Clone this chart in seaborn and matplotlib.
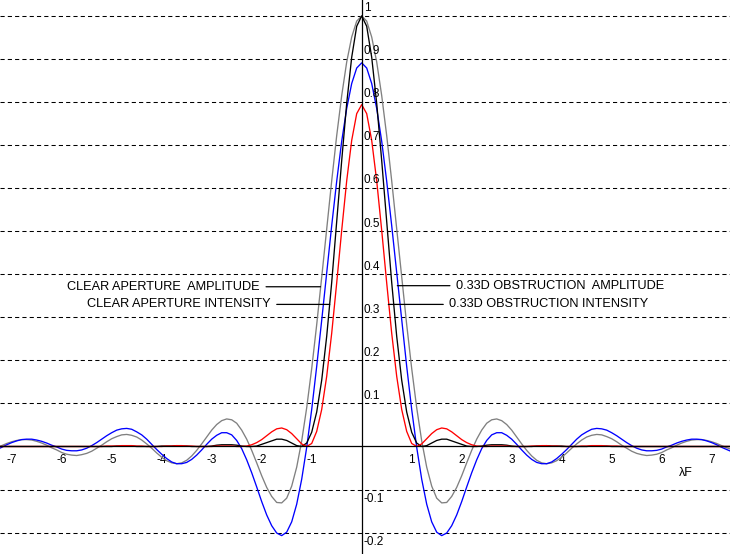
import numpy as np
import pandas as pd
import matplotlib
matplotlib.use("Agg")
import matplotlib.pyplot as plt
import seaborn as sns

# ── data (lambda*F units) ─────────────────────────────────────────────────────
lambda_f = [
    -7.3, -7.2, -7.1, -7.0, -6.9, -6.8, -6.7, -6.6, -6.5, -6.4,
    -6.3, -6.2, -6.1, -6.0, -5.9, -5.8, -5.7, -5.6, -5.5, -5.4,
    -5.3, -5.2, -5.1, -5.0, -4.9, -4.8, -4.7, -4.6, -4.5, -4.4,
    -4.3, -4.2, -4.1, -4.0, -3.9, -3.8, -3.7, -3.6, -3.5, -3.4,
    -3.3, -3.2, -3.1, -3.0, -2.9, -2.8, -2.7, -2.6, -2.5, -2.4,
    -2.3, -2.2, -2.1, -2.0, -1.9, -1.8, -1.7, -1.6, -1.5, -1.4,
    -1.3, -1.2, -1.1, -1.0, -0.9, -0.8, -0.7, -0.6, -0.5, -0.4,
    -0.3, -0.2, -0.1,
    0.0, 0.1, 0.2, 0.3, 0.4, 0.5, 0.6, 0.7, 0.8, 0.9,
    1.0, 1.1, 1.2, 1.3, 1.4, 1.5, 1.6, 1.7, 1.8, 1.9,
    2.0, 2.1, 2.2, 2.3, 2.4, 2.5, 2.6, 2.7, 2.8, 2.9,
    3.0, 3.1, 3.2, 3.3, 3.4, 3.5, 3.6, 3.7, 3.8, 3.9,
    4.0, 4.1, 4.2, 4.3, 4.4, 4.5, 4.6, 4.7, 4.8, 4.9,
    5.0, 5.1, 5.2, 5.3, 5.4, 5.5, 5.6, 5.7, 5.8, 5.9,
    6.0, 6.1, 6.2, 6.3, 6.4, 6.5, 6.6, 6.7, 6.8, 6.9,
    7.0, 7.1, 7.2, 7.3, 7.4,
]

clear_amplitude = [
    -0.003, 0.002, 0.007, 0.011, 0.014, 0.016, 0.016, 0.015, 0.012, 0.008,
    0.003, -0.003, -0.008, -0.014, -0.018, -0.020, -0.021, -0.019, -0.016, -0.011,
    -0.004, 0.003, 0.011, 0.018, 0.023, 0.027, 0.028, 0.026, 0.022, 0.015,
    0.006, -0.004, -0.015, -0.025, -0.033, -0.038, -0.040, -0.038, -0.032, -0.022,
    -0.009, 0.006, 0.022, 0.038, 0.051, 0.060, 0.064, 0.062, 0.054, 0.038,
    0.017, -0.009, -0.038, -0.068, -0.095, -0.116, -0.130, -0.131, -0.120, -0.092,
    -0.048, 0.013, 0.090, 0.181, 0.283, 0.393, 0.506, 0.617, 0.722, 0.815,
    0.893, 0.951, 0.988,
    1.000, 0.988, 0.951, 0.893, 0.815, 0.722, 0.617, 0.506, 0.393, 0.283,
    0.181, 0.090, 0.013, -0.048, -0.092, -0.120, -0.131, -0.130, -0.116, -0.095,
    -0.068, -0.038, -0.009, 0.017, 0.038, 0.054, 0.062, 0.064, 0.060, 0.051,
    0.038, 0.022, 0.006, -0.009, -0.022, -0.032, -0.038, -0.040, -0.038, -0.033,
    -0.025, -0.015, -0.004, 0.006, 0.015, 0.022, 0.026, 0.028, 0.027, 0.023,
    0.018, 0.011, 0.003, -0.004, -0.011, -0.016, -0.019, -0.021, -0.020, -0.018,
    -0.014, -0.008, -0.003, 0.003, 0.008, 0.012, 0.015, 0.016, 0.016, 0.014,
    0.011, 0.007, 0.002, -0.003, -0.007,
]

clear_intensity = [
    0.000, 0.000, 0.000, 0.000, 0.000, 0.000, 0.000, 0.000, 0.000, 0.000,
    0.000, 0.000, 0.000, 0.000, 0.000, 0.000, 0.000, 0.000, 0.000, 0.000,
    0.000, 0.000, 0.000, 0.000, 0.001, 0.001, 0.001, 0.001, 0.000, 0.000,
    0.000, 0.000, 0.000, 0.001, 0.001, 0.001, 0.002, 0.001, 0.001, 0.000,
    0.000, 0.000, 0.000, 0.001, 0.003, 0.004, 0.004, 0.004, 0.003, 0.001,
    0.000, 0.000, 0.001, 0.005, 0.009, 0.013, 0.017, 0.017, 0.014, 0.008,
    0.002, 0.000, 0.008, 0.033, 0.080, 0.154, 0.256, 0.381, 0.521, 0.664,
    0.797, 0.904, 0.976,
    1.000, 0.976, 0.904, 0.797, 0.664, 0.521, 0.381, 0.256, 0.154, 0.080,
    0.033, 0.008, 0.000, 0.002, 0.008, 0.014, 0.017, 0.017, 0.013, 0.009,
    0.005, 0.001, 0.000, 0.000, 0.001, 0.003, 0.004, 0.004, 0.004, 0.003,
    0.001, 0.000, 0.000, 0.000, 0.000, 0.001, 0.001, 0.002, 0.001, 0.001,
    0.001, 0.000, 0.000, 0.000, 0.000, 0.000, 0.001, 0.001, 0.001, 0.001,
    0.000, 0.000, 0.000, 0.000, 0.000, 0.000, 0.000, 0.000, 0.000, 0.000,
    0.000, 0.000, 0.000, 0.000, 0.000, 0.000, 0.000, 0.000, 0.000, 0.000,
    0.000, 0.000, 0.000, 0.000, 0.000,
]

obstructed_amplitude = [
    -0.007, -0.002, 0.004, 0.009, 0.013, 0.016, 0.017, 0.017, 0.015, 0.012,
    0.008, 0.003, -0.001, -0.006, -0.009, -0.010, -0.010, -0.008, -0.004, 0.002,
    0.009, 0.017, 0.025, 0.032, 0.038, 0.041, 0.042, 0.040, 0.034, 0.027,
    0.017, 0.005, -0.007, -0.018, -0.028, -0.036, -0.040, -0.040, -0.037, -0.030,
    -0.020, -0.008, 0.005, 0.017, 0.026, 0.032, 0.032, 0.027, 0.014, -0.005,
    -0.031, -0.061, -0.094, -0.128, -0.159, -0.184, -0.201, -0.207, -0.199, -0.175,
    -0.134, -0.076, -0.002, 0.086, 0.186, 0.293, 0.404, 0.513, 0.616, 0.709,
    0.785, 0.843, 0.879,
    0.891, 0.879, 0.843, 0.785, 0.709, 0.616, 0.513, 0.404, 0.293, 0.186,
    0.086, -0.002, -0.076, -0.134, -0.175, -0.199, -0.207, -0.201, -0.184, -0.159,
    -0.128, -0.094, -0.061, -0.031, -0.005, 0.014, 0.027, 0.032, 0.032, 0.026,
    0.017, 0.005, -0.008, -0.020, -0.030, -0.037, -0.040, -0.040, -0.036, -0.028,
    -0.018, -0.007, 0.005, 0.017, 0.027, 0.034, 0.040, 0.042, 0.041, 0.038,
    0.032, 0.025, 0.017, 0.009, 0.002, -0.004, -0.008, -0.010, -0.010, -0.009,
    -0.006, -0.001, 0.003, 0.008, 0.012, 0.015, 0.017, 0.017, 0.016, 0.013,
    0.009, 0.004, -0.002, -0.007, -0.012,
]

obstructed_intensity = [
    0.000, 0.000, 0.000, 0.000, 0.000, 0.000, 0.000, 0.000, 0.000, 0.000,
    0.000, 0.000, 0.000, 0.000, 0.000, 0.000, 0.000, 0.000, 0.000, 0.000,
    0.000, 0.000, 0.001, 0.001, 0.001, 0.002, 0.002, 0.002, 0.001, 0.001,
    0.000, 0.000, 0.000, 0.000, 0.001, 0.001, 0.002, 0.002, 0.001, 0.001,
    0.000, 0.000, 0.000, 0.000, 0.001, 0.001, 0.001, 0.001, 0.000, 0.000,
    0.001, 0.004, 0.009, 0.016, 0.025, 0.034, 0.041, 0.043, 0.039, 0.030,
    0.018, 0.006, 0.000, 0.007, 0.035, 0.086, 0.163, 0.263, 0.380, 0.502,
    0.617, 0.711, 0.773,
    0.794, 0.773, 0.711, 0.617, 0.502, 0.380, 0.263, 0.163, 0.086, 0.035,
    0.007, 0.000, 0.006, 0.018, 0.030, 0.039, 0.043, 0.041, 0.034, 0.025,
    0.016, 0.009, 0.004, 0.001, 0.000, 0.000, 0.001, 0.001, 0.001, 0.001,
    0.000, 0.000, 0.000, 0.000, 0.001, 0.001, 0.002, 0.002, 0.001, 0.001,
    0.000, 0.000, 0.000, 0.000, 0.001, 0.001, 0.002, 0.002, 0.002, 0.001,
    0.001, 0.001, 0.000, 0.000, 0.000, 0.000, 0.000, 0.000, 0.000, 0.000,
    0.000, 0.000, 0.000, 0.000, 0.000, 0.000, 0.000, 0.000, 0.000, 0.000,
    0.000, 0.000, 0.000, 0.000, 0.000,
]

xticks = [-7, -6, -5, -4, -3, -2, -1, 1, 2, 3, 4, 5, 6, 7]
ylevels = [-0.2, -0.1, 0.1, 0.2, 0.3, 0.4, 0.5, 0.6, 0.7, 0.8, 0.9, 1.0]
ylabels = ["-0.2", "-0.1", "0.1", "0.2", "0.3", "0.4", "0.5", "0.6", "0.7", "0.8", "0.9", "1"]

# ── styling ───────────────────────────────────────────────────────────────────
sns.set_theme(style="white", rc={"axes.edgecolor": "black", "text.color": "black",
                                 "xtick.color": "black", "axes.unicode_minus": False})
plt.rcParams["font.family"] = ["Liberation Sans", "DejaVu Sans"]

series = {
    "clear_amp": clear_amplitude,
    "obs_amp": obstructed_amplitude,
    "clear_int": clear_intensity,
    "obs_int": obstructed_intensity,
}
df = pd.concat(
    [pd.DataFrame({"x": lambda_f, "value": vals, "series": name}) for name, vals in series.items()],
    ignore_index=True,
)
palette = {"clear_amp": "#808080", "obs_amp": "#0000ff", "clear_int": "#000000", "obs_int": "#ff0000"}

fig = plt.figure(figsize=(7.3, 5.54), dpi=100)
ax = fig.add_axes([0, 0, 1, 1])
sns.lineplot(data=df, x="x", y="value", hue="series", palette=palette, estimator=None,
             sort=False, lw=0.95, legend=False, ax=ax, zorder=2)
ax.set_xlim(-7.234, 7.366)
ax.set_ylim(-0.2497, 1.037)
ax.set_xlabel("")
ax.set_ylabel("")

# axes through the origin, drawn over the curves
for side in ["top", "right"]:
    ax.spines[side].set_visible(False)
for side in ["left", "bottom"]:
    ax.spines[side].set_position(("data", 0))
    ax.spines[side].set_linewidth(0.9)
    ax.spines[side].set_zorder(4)

ax.set_xticks(xticks, labels=[str(t) for t in xticks])
ax.tick_params(axis="x", direction="inout", length=8, width=0.8, pad=1.5, labelsize=8.5)
ax.set_yticks(ylevels)
ax.tick_params(axis="y", length=0, labelleft=False, labelright=False)
ax.grid(axis="y", color="black", lw=0.75, ls=(0, (4, 3)))

for v, lab in zip(ylevels, ylabels):
    if v > 0:
        ax.annotate(lab, xy=(0, v), xytext=(1.5, 1.2), textcoords="offset points",
                    ha="left", va="bottom", fontsize=8.5)
    else:
        ax.annotate(lab, xy=(0, v), xytext=(1.5, -2.2), textcoords="offset points",
                    ha="left", va="top", fontsize=8.5)

ax.text(6.48, -0.062, "λF", ha="center", va="center", fontsize=9)

# ── curve labels with leader lines ───────────────────────────────────────────
line_kw = dict(arrowstyle="-", color="black", lw=0.9, shrinkA=2, shrinkB=0)
ax.annotate("CLEAR APERTURE  AMPLITUDE", xy=(-0.825, 0.371), xytext=(-2.034, 0.371),
            ha="right", va="center", fontsize=9.2, arrowprops=line_kw)
ax.annotate("CLEAR APERTURE INTENSITY", xy=(-0.64, 0.330), xytext=(-1.82, 0.330),
            ha="right", va="center", fontsize=9.2, arrowprops=line_kw)
ax.annotate("0.33D OBSTRUCTION  AMPLITUDE", xy=(0.712, 0.3735), xytext=(1.886, 0.3735),
            ha="left", va="center", fontsize=9.2, arrowprops=line_kw)
ax.annotate("0.33D OBSTRUCTION INTENSITY", xy=(0.532, 0.330), xytext=(1.752, 0.330),
            ha="left", va="center", fontsize=9.2, arrowprops=line_kw)

plt.savefig("out.png", dpi=100)
